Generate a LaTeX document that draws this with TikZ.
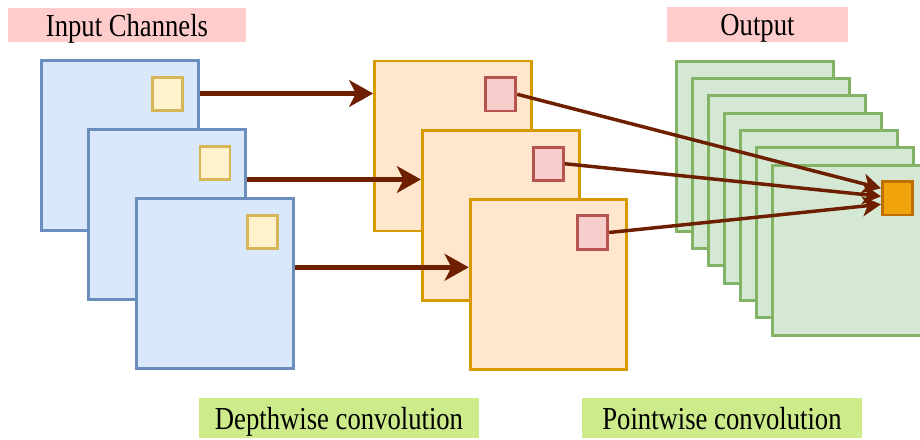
\documentclass[tikz,border=0pt]{standalone}
\usepackage{fontspec}
\setmainfont{Liberation Serif}
\newfontfamily\labfont{Liberation Serif}
\usetikzlibrary{arrows.meta,calc}
\definecolor{bluefill}{HTML}{DAE8FC}
\definecolor{bluedraw}{HTML}{6C8EBF}
\definecolor{yelfill}{HTML}{FFF2CC}
\definecolor{yeldraw}{HTML}{D6B656}
\definecolor{orfill}{HTML}{FFE6CC}
\definecolor{ordraw}{HTML}{D79B00}
\definecolor{pkfill}{HTML}{F8CECC}
\definecolor{pkdraw}{HTML}{B85450}
\definecolor{grfill}{HTML}{D5E8D4}
\definecolor{grdraw}{HTML}{82B366}
\definecolor{outfill}{HTML}{F0A30A}
\definecolor{outdraw}{HTML}{BD7000}
\definecolor{arrowc}{HTML}{6D1F00}
\definecolor{pinklab}{HTML}{FFCCCC}
\definecolor{greenlab}{HTML}{CDEB8B}
\begin{document}
\begin{tikzpicture}[x=0.75pt,y=-0.75pt,
  big/.style={draw, line width=2.2pt, minimum width=117.5pt, minimum height=127.5pt, inner sep=0pt},
  bl/.style={big, draw=bluedraw, fill=bluefill},
  orb/.style={big, draw=ordraw, fill=orfill},
  grb/.style={big, draw=grdraw, fill=grfill},
  sm/.style={draw, line width=2.2pt, minimum width=22.5pt, minimum height=25pt, inner sep=0pt},
  ysm/.style={sm, draw=yeldraw, fill=yelfill},
  psm/.style={sm, draw=pkdraw, fill=pkfill},
  osm/.style={sm, draw=outdraw, fill=outfill},
  lab/.style={inner sep=0pt, text depth=0pt, font=\labfont\fontsize{20pt}{24pt}\selectfont},
  thickarrow/.style={draw=arrowc, line width=3.6pt, -{Stealth[length=18pt, width=20pt, inset=5pt]}},
  thinarrow/.style={draw=arrowc, line width=2.6pt, -{Stealth[length=14pt, width=15pt, inset=4pt]}}
]
\useasboundingbox (0,0) rectangle (920,439);

% labels
\node[lab, fill=pinklab, minimum width=178.5pt, minimum height=25.5pt] (lin) at (127,25) {\scalebox{1}[1.2]{Input Channels}};
\node[lab, fill=pinklab, minimum width=135.75pt, minimum height=26.25pt] (lout) at (757.5,24.5) {\scalebox{1}[1.2]{Output}};
\node[lab, fill=greenlab, minimum width=210pt, minimum height=30pt] (ldw) at (339,418) {\scalebox{1}[1.2]{Depthwise convolution}};
\node[lab, fill=greenlab, minimum width=210pt, minimum height=30pt] (lpw) at (722,418) {\scalebox{1}[1.2]{Pointwise convolution}};

% input channels
\node[bl] (b1) at (120,145.5) {};
\node[ysm] (y1) at (167.5,94) {};
\node[bl] (b2) at (167,214.5) {};
\node[ysm] (y2) at (215,163) {};
\node[bl] (b3) at (215,283.5) {};
\node[ysm] (y3) at (262.5,232) {};

% depthwise outputs
\node[orb] (o1) at (453,146) {};
\node[psm] (p1) at (500.8,94.3) {};
\node[orb] (o2) at (500.7,215.2) {};
\node[psm] (p2) at (548.2,163.7) {};
\node[orb] (o3) at (548.5,284.2) {};
\node[psm] (p3) at (592.7,232.5) {};

% output channels
\node[grb] (g1) at (755,146.3) {};
\node[grb] (g2) at (771,163.6) {};
\node[grb] (g3) at (787,180.9) {};
\node[grb] (g4) at (803,198.2) {};
\node[grb] (g5) at (819,215.5) {};
\node[grb] (g6) at (835,232.8) {};
\node[grb] (g7) at (851,250.1) {};
\node[osm] (out) at (897.5,198.3) {};

% arrow rows
\coordinate (r1) at (0,93.5);
\coordinate (r2) at (0,179.5);
\coordinate (r3) at (0,267.3);
\draw[thickarrow] (b1.east |- r1) -- (o1.west |- r1);
\draw[thickarrow] (b2.east |- r2) -- (o2.west |- r2);
\draw[thickarrow] (b3.east |- r3) -- (o3.west |- r3);

\draw[thinarrow] (p1.east) -- ($(out.west)+(0,-10)$);
\draw[thinarrow] (p2.east) -- ($(out.west)+(0,-2)$);
\draw[thinarrow] (p3.east) -- ($(out.west)+(0,6)$);
\end{tikzpicture}
\end{document}
